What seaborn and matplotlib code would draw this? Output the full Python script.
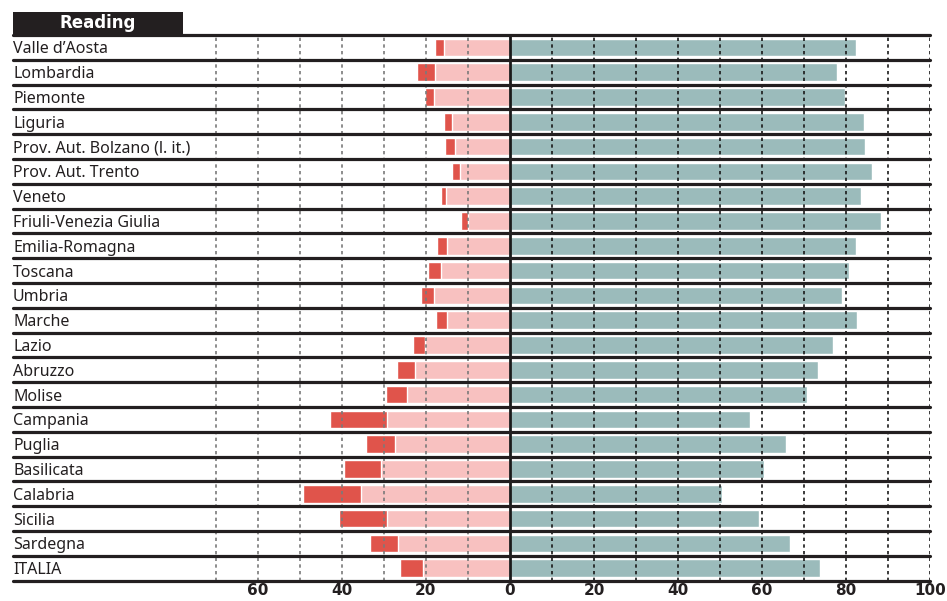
import numpy as np
import pandas as pd
import matplotlib
matplotlib.use("Agg")
import matplotlib.pyplot as plt
from matplotlib.patches import Rectangle
import seaborn as sns

# --- dati ---
regioni = ["Valle d\u2019Aosta", "Lombardia", "Piemonte", "Liguria",
           "Prov. Aut. Bolzano (l. it.)", "Prov. Aut. Trento", "Veneto",
           "Friuli-Venezia Giulia", "Emilia-Romagna", "Toscana", "Umbria",
           "Marche", "Lazio", "Abruzzo", "Molise", "Campania", "Puglia",
           "Basilicata", "Calabria", "Sicilia", "Sardegna", "ITALIA"]
# quota bassa (rosa) e quota bassa + molto bassa (rosso), a sinistra
basso = [15.7, 17.8, 18.1, 13.8, 13.1, 11.9, 15.2, 10.0, 15.0, 16.4, 18.1,
         15.0, 20.2, 22.6, 24.5, 29.3, 27.4, 30.7, 35.5, 29.3, 26.7, 20.7]
totale = [17.9, 22.1, 20.2, 15.7, 15.5, 13.8, 16.4, 11.7, 17.4, 19.5, 21.2,
          17.6, 23.1, 26.9, 29.5, 42.9, 34.3, 39.5, 49.3, 40.7, 33.3, 26.2]
# quota alta (verde) a destra
alto = [82.4, 77.9, 79.8, 84.3, 84.5, 86.2, 83.6, 88.3, 82.5, 80.7, 79.0,
        82.6, 76.9, 73.3, 70.7, 57.1, 65.7, 60.5, 50.5, 59.3, 66.7, 73.8]
tick_vals = [-60, -40, -20, 0, 20, 40, 60, 80, 100]

ROSA = "#F8C1C0"
ROSSO = "#E0544B"
VERDE = "#9BBBBB"
NERO = "#231f20"

df = pd.DataFrame({"regione": regioni, "basso": basso,
                   "totale": totale, "alto": alto})
df["neg_tot"] = -df["totale"]
df["neg_basso"] = -df["basso"]

sns.set_theme(style="white")
plt.rcParams["font.family"] = ["Noto Sans", "DejaVu Sans"]

fig = plt.figure(figsize=(9.47, 6.01), dpi=100)
ax = fig.add_axes([13 / 947, 1 - 580.5 / 601, 917 / 947, 545.5 / 601])

W = 0.71
sns.barplot(data=df, x="neg_tot", y="regione", color=ROSSO, width=W,
            saturation=1, ax=ax, zorder=2)
sns.barplot(data=df, x="neg_basso", y="regione", color=ROSA, width=W,
            saturation=1, ax=ax, zorder=2)
sns.barplot(data=df, x="alto", y="regione", color=VERDE, width=W,
            saturation=1, ax=ax, zorder=2)

ax.set_xlim(-118.3, 100)
ax.set_ylim(len(regioni) - 0.5, -0.5)

# griglia verticale tratteggiata
for v in range(-70, 101, 10):
    if v == 0:
        continue
    col = "#7a7a7a" if v < 0 else "#1a1a1a"
    ax.axvline(v, color=col, lw=1.2, ls=(0, (2, 2)), zorder=3)
ax.axvline(0, color="#1a1a1a", lw=2.0, zorder=4)

# linee orizzontali tra le righe
for i in range(len(regioni) + 1):
    ax.axhline(i - 0.5, color=NERO, lw=2.3, zorder=5, clip_on=False)

ax.set_xticks(tick_vals)
ax.set_xticklabels([str(abs(t)) for t in tick_vals], fontsize=11,
                   fontweight="bold", color=NERO, family="DejaVu Sans")
ax.tick_params(axis="x", length=0, pad=2)

ax.set_yticks(range(len(regioni)))
ax.set_yticklabels(regioni, fontsize=11.5, color=NERO)
ax.tick_params(axis="y", length=0, pad=0)
for lab in ax.get_yticklabels():
    lab.set_horizontalalignment("left")

ax.set_xlabel("")
ax.set_ylabel("")
for s in ax.spines.values():
    s.set_visible(False)

# titolo in box nero
fig.add_artist(Rectangle((13 / 947, 1 - 35 / 601), 170 / 947, 23 / 601,
                         transform=fig.transFigure, color=NERO, lw=0))
fig.text(98 / 947, 1 - 23.5 / 601, "Reading", color="white", fontsize=12,
         fontweight="bold", ha="center", va="center", family="DejaVu Sans")

fig.savefig("out.png", dpi=100)
